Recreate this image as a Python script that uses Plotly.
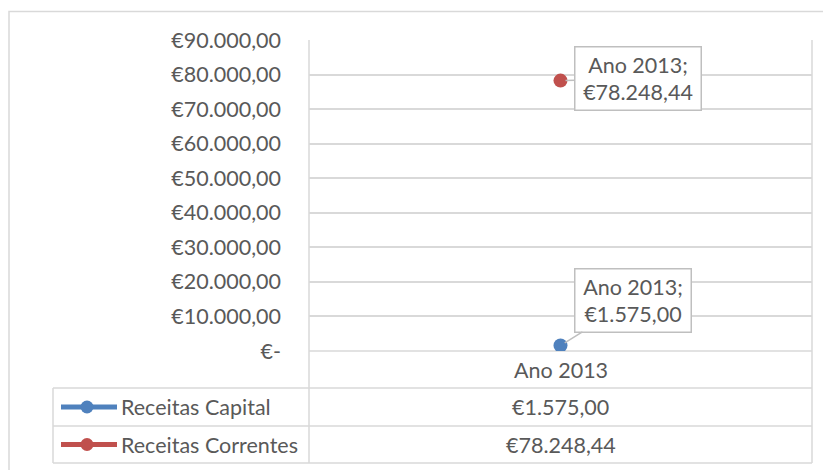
import plotly.graph_objects as go

categories = ["Ano 2013"]
series_names = ["Receitas Capital", "Receitas Correntes"]
receitas_capital = [1575.00]
receitas_correntes = [78248.44]
value_labels = [["€1.575,00"], ["€78.248,44"]]
tick_vals = [0, 10000, 20000, 30000, 40000, 50000, 60000, 70000, 80000, 90000]
tick_text = ["€-", "€10.000,00", "€20.000,00", "€30.000,00", "€40.000,00",
             "€50.000,00", "€60.000,00", "€70.000,00", "€80.000,00", "€90.000,00"]
colors = ["#4F81BD", "#C0504D"]

OFF = 8  # default page body margin
W, H = 831 - OFF, 470 - OFF
# plot area in page pixels
L, R, T, B = 309, 812, 40, 351
FONT = "Lato"
FS = 21.5
TXT = "#595959"
GRID = "#D9D9D9"


def px(x):
    return (x - L) / (R - L)


def py(y):
    return (B - y) / (B - T)


fig = go.Figure()
series_vals = [receitas_capital, receitas_correntes]
for name, vals, col in zip(series_names, series_vals, colors):
    fig.add_trace(go.Scatter(x=categories, y=vals, mode="markers+lines", name=name,
                             marker=dict(color=col, size=14),
                             line=dict(color=col, width=4), showlegend=False))

shapes = []


def hline(y, x0, x1):
    shapes.append(dict(type="line", xref="paper", yref="paper", x0=px(x0), x1=px(x1),
                       y0=py(y), y1=py(y), line=dict(color=GRID, width=1.5), layer="below"))


def vline(x, y0, y1):
    shapes.append(dict(type="line", xref="paper", yref="paper", x0=px(x), x1=px(x),
                       y0=py(y0), y1=py(y1), line=dict(color=GRID, width=1.5), layer="below"))


# outer chart border
shapes.append(dict(type="rect", xref="paper", yref="paper", x0=px(9), x1=px(845),
                   y0=py(11.5), y1=py(490), line=dict(color=GRID, width=1.5), layer="below"))
# data table
row_y = [351, 388, 426, 463]
hline(row_y[0], L, R)
for y in row_y[1:]:
    hline(y, 53, R)
vline(53, 388, 463)
vline(L, T, 463)
vline(R, T, 463)

annotations = []
txt_font = dict(family=FONT, size=FS, color=TXT)
annotations.append(dict(xref="paper", yref="paper", x=px((L + R) / 2),
                        y=py((row_y[0] + row_y[1]) / 2), xanchor="center", yanchor="middle",
                        text=categories[0], showarrow=False, font=txt_font))
for i, (name, col) in enumerate(zip(series_names, colors)):
    yc = (row_y[i + 1] + row_y[i + 2]) / 2
    shapes.append(dict(type="line", xref="paper", yref="paper", x0=px(61), x1=px(117),
                       y0=py(yc), y1=py(yc), line=dict(color=col, width=5)))
    shapes.append(dict(type="circle", xref="paper", yref="paper", x0=px(80.5), x1=px(93.5),
                       y0=py(yc - 6.5), y1=py(yc + 6.5), line=dict(color=col, width=0),
                       fillcolor=col))
    annotations.append(dict(xref="paper", yref="paper", x=px(119), y=py(yc),
                            xanchor="left", yanchor="middle",
                            text=name, showarrow=False, font=txt_font))
    annotations.append(dict(xref="paper", yref="paper", x=px((L + R) / 2), y=py(yc),
                            xanchor="center", yanchor="middle",
                            text=value_labels[i][0], showarrow=False, font=txt_font))

# data label callouts
offsets = [(72.5, -45.5), (77.5, -2)]
box_w = [107, 117]
for i, vals in enumerate(series_vals):
    annotations.append(dict(x=categories[0], y=vals[0], xref="x", yref="y",
                            text=f"{categories[0]};<br>{value_labels[i][0]}",
                            showarrow=True, arrowhead=0, arrowwidth=1.5, arrowcolor="#BFBFBF",
                            ax=offsets[i][0], ay=offsets[i][1], standoff=5,
                            width=box_w[i], align="center",
                            bgcolor="white", bordercolor="#BFBFBF", borderwidth=1.5, borderpad=4,
                            font=txt_font))

fig.update_layout(
    width=W, height=H,
    margin=dict(l=L - OFF, r=W - (R - OFF), t=T - OFF, b=H - (B - OFF)),
    paper_bgcolor="white", plot_bgcolor="white",
    xaxis=dict(type="category", range=[-0.5, 0.5], showticklabels=False, showgrid=False,
               zeroline=False, showline=False),
    yaxis=dict(range=[0, 90000], tickvals=tick_vals, ticktext=tick_text, showgrid=True,
               gridcolor=GRID, gridwidth=1.5, zeroline=False, showline=False,
               ticklabelstandoff=27, tickfont=txt_font),
    shapes=shapes, annotations=annotations,
)

fig.write_html("out.html")
